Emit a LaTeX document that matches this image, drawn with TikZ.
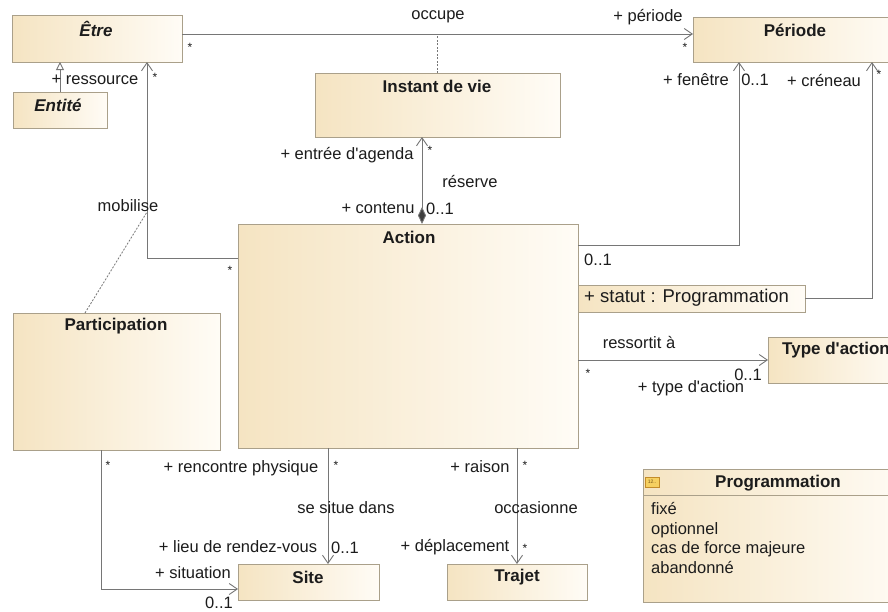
\documentclass[tikz,border=0pt]{standalone}
\usepackage{fontspec}
\setmainfont{Liberation Sans}
\usetikzlibrary{arrows.meta,calc}
\definecolor{boxL}{RGB}{245,228,194}
\definecolor{boxR}{RGB}{255,252,246}
\definecolor{boxEdge}{RGB}{170,160,138}
\definecolor{wire}{RGB}{118,118,118}
\definecolor{ink}{RGB}{28,28,28}
\definecolor{iconFill}{RGB}{246,208,96}
\definecolor{iconEdge}{RGB}{196,140,40}
\newcommand{\apos}{\textquotesingle}
\tikzset{
  umlbox/.style={draw=boxEdge, line width=0.8pt, left color=boxL, right color=boxR,
    anchor=north west, inner sep=0pt, outer sep=0pt},
  title/.style={font=\fontsize{17}{20}\selectfont\bfseries, text=ink, inner sep=0pt},
  ititle/.style={title, font=\fontsize{17}{20}\selectfont\bfseries\itshape},
  lbl/.style={font=\fontsize{16.5}{19}\selectfont, text=ink, inner sep=0pt},
  mult/.style={font=\fontsize{12}{12}\selectfont, text=ink, inner sep=0pt},
  assoc/.style={draw=wire, line width=0.9pt},
  nav/.style={assoc, -{Straight Barb[length=8pt,width=11pt,line width=0.9pt]}},
  dotlink/.style={draw=wire, line width=0.8pt, dash pattern=on 2pt off 1.5pt},
}
\begin{document}
\begin{tikzpicture}[x=1pt,y=-1pt]
\useasboundingbox (0,0) rectangle (888,611);
\fill[white] (0,0) rectangle (888,611);

% ---------- classes ----------
\node[umlbox, minimum width=170pt, minimum height=47pt] (tre) at (12,15) {};
\node[ititle] (treT) at (96,29) {Être};
\node[umlbox, minimum width=94pt, minimum height=36pt] (ent) at (13,92) {};
\node[ititle] (entT) at (58,105) {Entité};
\node[umlbox, minimum width=245pt, minimum height=64pt] (ivie) at (315,73) {};
\node[title] (ivieT) at (437,86) {Instant de vie};
\node[umlbox, minimum width=210pt, minimum height=45pt] (per) at (693,17) {};
\node[title] (perT) at (795,30) {Période};
\node[umlbox, minimum width=340pt, minimum height=224pt] (act) at (238,224) {};
\node[title] (actT) at (409,237) {Action};
\node[umlbox, minimum width=227pt, minimum height=27pt] (stat) at (578,285) {};
\node[lbl, anchor=west, font=\fontsize{18.5}{21}\selectfont] (statT) at (584,298) {+ statut : Programmation};
\node[umlbox, minimum width=207pt, minimum height=137pt] (part) at (13,313) {};
\node[title] (partT) at (116,326) {Participation};
\node[umlbox, minimum width=141pt, minimum height=36pt] (site) at (238,564) {};
\node[title] (siteT) at (308,577) {Site};
\node[umlbox, minimum width=140pt, minimum height=36pt] (trj) at (447,564) {};
\node[title] (trjT) at (517,577) {Trajet};
\node[umlbox, minimum width=140pt, minimum height=46pt] (typ) at (768,337) {};
\node[title, anchor=west] (typT) at (782,350) {Type d\apos action};

% enumeration Programmation
\node[umlbox, minimum width=270pt, minimum height=133pt] (prog) at (643,469) {};
\draw[boxEdge, line width=0.8pt] (prog.north west |- 0,495) -- (prog.north east |- 0,495);
\node[draw=iconEdge, fill=iconFill, line width=0.5pt, minimum width=14pt, minimum height=10pt,
  inner sep=0pt, font=\fontsize{5}{5}\selectfont, text=iconEdge!60!black] (progIcon) at (652,482) {12..};
\node[title] (progT) at (778,483) {Programmation};
\node[lbl, anchor=base west] (it1) at (651,514) {fixé};
\node[lbl, anchor=base west] (it2) at (651,534) {optionnel};
\node[lbl, anchor=base west] (it3) at (651,553) {cas de force majeure};
\node[lbl, anchor=base west] (it4) at (651,573) {abandonné};

% ---------- bend points ----------
\coordinate (occY) at (0,34);
\coordinate (mobC) at (147,258);
\coordinate (mobL) at (147,212);
\coordinate (partX) at (85,0);
\coordinate (compX) at (422,0);
\coordinate (fenC) at (739,245);
\coordinate (creX) at (872,0);
\coordinate (sitX) at (328,0);
\coordinate (pSiteC) at (101,589);

% ---------- connectors ----------
% occupe (association class Instant de vie)
\draw[nav] (tre.east |- occY) -- (per.west |- occY);
\draw[dotlink] (ivie.north) -- (ivie.north |- occY);
% generalisation Entité -> Être
\draw[assoc, -{Triangle[open,length=8pt,width=8pt,fill=white]}] (ent.north) -- (ent.north |- tre.south);
% mobilise (association class Participation)
\draw[nav] (act.west |- mobC) -- (mobC) -- (mobC |- tre.south);
\draw[dotlink] (part.north -| partX) -- (mobL);
% réserve (composition)
\draw[assoc, {Diamond[length=17pt,width=8pt,fill=ink!85]}-{Straight Barb[length=8pt,width=11pt,line width=0.9pt]}]
  (act.north -| compX) -- (ivie.south -| compX);
% fenêtre
\draw[nav] (act.east |- fenC) -- (fenC) -- (fenC |- per.south);
% créneau
\draw[nav] (stat.east) -- (stat.east -| creX) -- (per.south -| creX);
% ressortit à
\draw[nav] (act.east |- typ.west) -- (typ.west);
% se situe dans
\draw[nav] (act.south -| sitX) -- (site.north -| sitX);
% occasionne
\draw[nav] (act.south -| trj.north) -- (trj.north);
% situation
\draw[nav] (part.south -| pSiteC) -- (pSiteC) -- (site.west |- pSiteC);

% ---------- labels ----------
\node[lbl] (lOcc) at (438,17) {occupe};
\node[mult] (mOcc1) at (190,47) {*};
\node[lbl] (lPer) at (648,17) {+ période};
\node[mult] (mOcc2) at (685,47) {*};
\node[lbl] (lRes) at (95,80) {+ ressource};
\node[mult] (mRes) at (155,77) {*};
\node[lbl] (lMob) at (128,206) {mobilise};
\node[mult] (mMob) at (230,270) {*};
\node[lbl] (lEnt) at (347,155) {+ entrée d\apos agenda};
\node[mult] (mEnt) at (430,150) {*};
\node[lbl] (lRsv) at (470,182) {réserve};
\node[lbl] (lCon) at (378,208) {+ contenu};
\node[lbl] (mCon) at (440,209) {0..1};
\node[lbl] (lFen) at (696,80) {+ fenêtre};
\node[lbl] (mFen) at (755,80) {0..1};
\node[lbl] (lCre) at (824,81) {+ créneau};
\node[mult] (mCre) at (879,74) {*};
\node[lbl] (mAct) at (598,260) {0..1};
\node[lbl] (lRss) at (639,342) {ressortit à};
\node[mult] (mTyp1) at (588,373) {*};
\node[lbl] (mTyp2) at (748,375) {0..1};
\node[lbl] (lTyp) at (691,388) {+ type d\apos action};
\node[mult] (mPart) at (108,465) {*};
\node[lbl] (lRen) at (241,468) {+ rencontre physique};
\node[mult] (mRen) at (336,465) {*};
\node[lbl] (lSit) at (346,508) {se situe dans};
\node[lbl] (lLieu) at (238,547) {+ lieu de rendez-vous};
\node[lbl] (mLieu) at (345,548) {0..1};
\node[lbl] (lSitu) at (193,573) {+ situation};
\node[lbl] (mSitu) at (219,603) {0..1};
\node[lbl] (lRai) at (480,467) {+ raison};
\node[mult] (mRai) at (525,465) {*};
\node[lbl] (lOca) at (536,508) {occasionne};
\node[lbl] (lDep) at (455,547) {+ déplacement};
\node[mult] (mDep) at (525,548) {*};
\end{tikzpicture}
\end{document}
